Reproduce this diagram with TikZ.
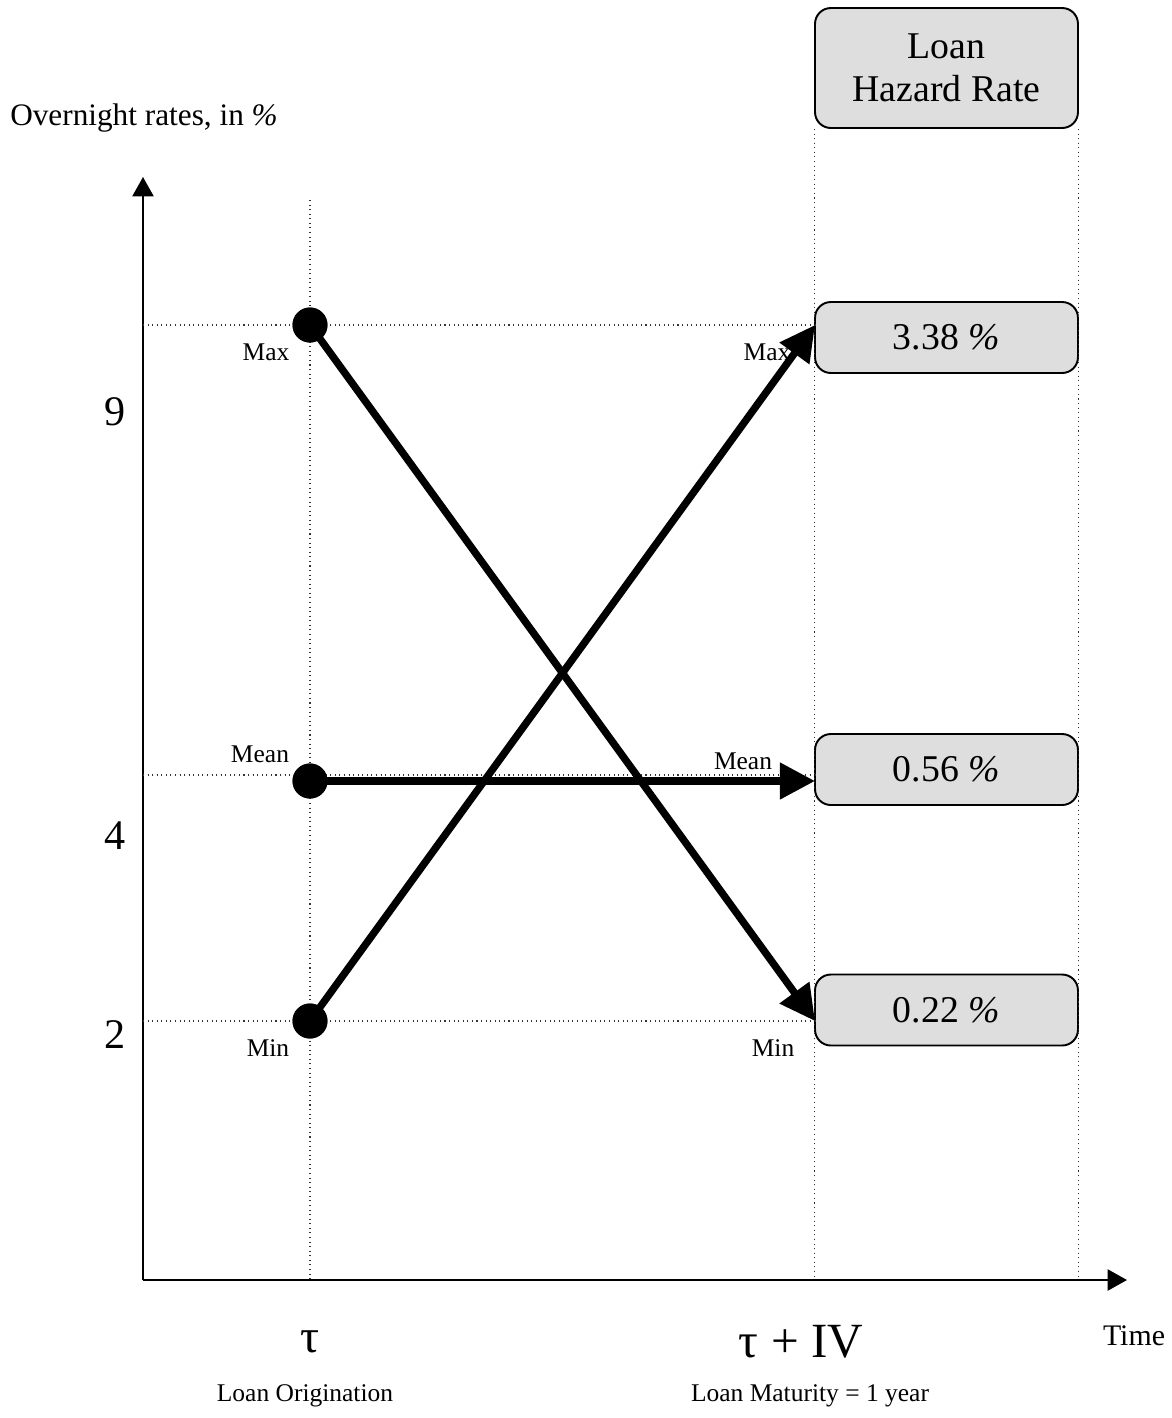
\documentclass[tikz,border=0pt]{standalone}
\usepackage{fontspec}
\setmainfont{Liberation Serif}
\usetikzlibrary{arrows.meta, positioning}
\newcommand{\fsz}[1]{\fontsize{#1}{1.15\dimexpr#1pt\relax}\selectfont}
\newcommand{\pct}{\textit{\%}}
\tikzset{
  ratebox/.style={rectangle, rounded corners=9pt, draw=black, line width=1.1pt,
                  fill=black!13, minimum width=5.26cm, minimum height=#1,
                  inner sep=2pt, align=center, font=\fsz{21.5}},
  ratebox/.default=1.42cm,
  guide/.style={dotted, line width=0.6pt, black!80},
  axis/.style={-{Triangle[length=11pt, width=12pt]}, line width=1.1pt},
  ratearr/.style={-{Triangle[length=20pt, width=20pt]}, line width=4.2pt},
  ratedot/.style={circle, fill=black, inner sep=0pt, minimum size=0.7cm},
  lvl/.style={font=\fsz{14.5}, inner sep=1pt},
  tick/.style={font=\fsz{24}},
}
\begin{document}
\begin{tikzpicture}[x=0.02cm, y=-0.02cm]
  \useasboundingbox (0,0) rectangle (1171,1418);
  %% axes
  \coordinate (orig) at (143,1280);
  \coordinate (ytop) at (143,177);
  \coordinate (xend) at (1127,1280);
  \draw[axis] (orig) -- (ytop);
  \draw[axis] (orig) -- (xend);
  \node[font=\fsz{17.8}] (ylab) at (144,118) {Overnight rates, in \pct};
  \node[font=\fsz{17}] (xlab) at (1134,1336) {Time};
  %% boxes
  \node[ratebox=2.4cm] (head) at (946.5,68) {Loan\\Hazard Rate};
  \node[ratebox] (bmax)  at (946.5,337.5) {3.38 \pct};
  \node[ratebox] (bmean) at (946.5,769.5) {0.56 \pct};
  \node[ratebox] (bmin)  at (946.5,1010) {0.22 \pct};
  %% dots at origination
  \node[ratedot] (omax)  at (310,325) {};
  \node[ratedot] (omean) at (310,781) {};
  \node[ratedot] (omin)  at (310,1021) {};
  %% arrow targets
  \coordinate (tmax)  at (815,325);
  \coordinate (tmean) at (815,781);
  \coordinate (tmin)  at (815,1021);
  %% guide lines
  \draw[guide] (310,200) -- (310,1280);
  \draw[guide] (head.south west) -- (head.south west |- orig);
  \draw[guide] (head.south east) -- (head.south east |- orig);
  \draw[guide] (ytop |- omax) -- (tmax);
  \draw[guide] (ytop |- tmean) ++(0,-6) -- ++(672,0);
  \draw[guide] (ytop |- omin) -- (tmin);
  %% tick labels
  \node[tick] (t9) at (115,412) {9};
  \node[tick] (t4) at (115,836) {4};
  \node[tick] (t2) at (115,1035) {2};
  \node[font=\fsz{27}] (tau)  at (310,1342) {τ};
  \node[font=\fsz{28}] (taui) at (801,1342) {τ + IV};
  \node[lvl] (lorig) at (305,1396) {Loan Origination};
  \node[lvl] (lmat)  at (810,1396) {Loan Maturity = 1 year};
  %% level labels
  \node[lvl] (lmax1)  at (266,352) {Max};
  \node[lvl] (lmean1) at (260,754) {Mean};
  \node[lvl] (lmin1)  at (268,1048) {Min};
  \node[lvl] (lmax2)  at (767,352) {Max};
  \node[lvl] (lmean2) at (743,761) {Mean};
  \node[lvl] (lmin2)  at (773,1048) {Min};
  %% moves
  \foreach \a/\b in {omax/tmin, omin/tmax, omean/tmean}
    \draw[ratearr] (\a.center) -- (\b);
  \foreach \d in {omax, omean, omin}
    \node[ratedot] at (\d) {};
\end{tikzpicture}
\end{document}
